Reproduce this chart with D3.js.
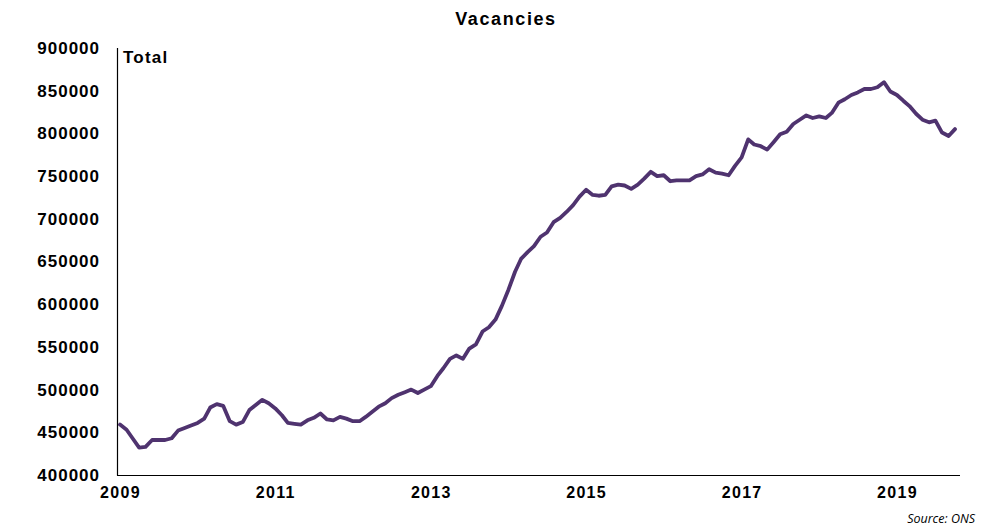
<!DOCTYPE html>
<html>
<head>
<meta charset="utf-8">
<script src="https://cdn.jsdelivr.net/npm/d3@7"></script>
<style>
  body { margin: 0; background: #fff; }
  text { font-family: "Liberation Sans", Arial, sans-serif; }
</style>
</head>
<body>
<div id="plot"></div>
<script>
let width = 1000;
let height = 530;

// monthly vacancies, Jan 2009 .. Oct 2019 (thousands)
let startMonth = new Date(2009, 0, 1);
let vacancies = [
    459, 453, 443, 432, 433, 441, 441, 441, 443, 452, 455, 458,
    461, 466, 479, 483, 481, 463, 459, 462, 476, 482, 488, 484,
    478, 470, 461, 460, 459, 464, 467, 472, 465, 464, 468, 466,
    463, 463, 468, 474, 480, 484, 490, 494, 497, 500, 496, 500,
    504, 516, 525, 536, 540, 536, 548, 553, 568, 573, 582, 598,
    617, 638, 653, 661, 668, 679, 684, 696, 701, 708, 716, 726,
    734, 728, 727, 728, 738, 740, 739, 735, 740, 747, 755, 750,
    751, 744, 745, 745, 745, 750, 752, 758, 754, 753, 751, 762,
    772, 793, 787, 785, 781, 790, 799, 802, 811, 816, 821, 818,
    820, 818, 824, 836, 840, 845, 848, 852, 852, 854, 860, 849,
    845, 838, 832, 823, 816, 813, 815, 801, 797, 805
];
let yTicks = [400000, 450000, 500000, 550000, 600000, 650000, 700000, 750000, 800000, 850000, 900000];
let xTickYears = [2009, 2011, 2013, 2015, 2017, 2019];

let data = vacancies.map((v, i) => ({
    date: new Date(2009, i, 1),
    value: v * 1000
}));

let svg = d3.select("#plot")
    .append("svg")
    .attr("width", width)
    .attr("height", height);

let xScale = d3.scaleTime()
    .domain([startMonth, data[data.length - 1].date])
    .range([120, 955]);

let yScale = d3.scaleLinear()
    .domain([400000, 900000])
    .range([475, 48]);

// title
svg.append("text")
    .attr("x", 506)
    .attr("y", 25)
    .attr("text-anchor", "middle")
    .style("font-weight", "bold")
    .style("font-size", "18px")
    .style("letter-spacing", "1.6px")
    .text("Vacancies");

// y axis
let yAxis = d3.axisLeft(yScale)
    .tickValues(yTicks)
    .tickSize(0)
    .tickPadding(17)
    .tickFormat(d3.format("d"));

svg.append("g")
    .attr("transform", "translate(117,0)")
    .call(yAxis)
    .call(g => g.select(".domain").remove())
    .selectAll("text")
    .style("font-family", "'Liberation Sans', Arial, sans-serif")
    .style("font-weight", "bold")
    .style("font-size", "17px")
    .style("letter-spacing", "1px")
    .attr("fill", "#000");

// x axis
let xAxis = d3.axisBottom(xScale)
    .tickValues(xTickYears.map(y => new Date(y, 0, 1)))
    .tickSize(0)
    .tickPadding(12)
    .tickFormat(d3.timeFormat("%Y"));

svg.append("g")
    .attr("transform", "translate(0,475)")
    .call(xAxis)
    .call(g => g.select(".domain").remove())
    .selectAll("text")
    .style("font-family", "'Liberation Sans', Arial, sans-serif")
    .style("font-weight", "bold")
    .style("font-size", "16px")
    .style("letter-spacing", "1.3px")
    .attr("fill", "#000");

// axis lines
svg.append("line")
    .attr("x1", 117.5).attr("x2", 117.5)
    .attr("y1", 48).attr("y2", 475.5)
    .attr("stroke", "#000").attr("stroke-width", 1.2);

svg.append("line")
    .attr("x1", 117).attr("x2", 960)
    .attr("y1", 475.5).attr("y2", 475.5)
    .attr("stroke", "#000").attr("stroke-width", 1.2);

svg.append("text")
    .attr("x", 123)
    .attr("y", 63)
    .style("font-weight", "bold")
    .style("font-size", "17px")
    .style("letter-spacing", "1.2px")
    .text("Total");

// series
let line = d3.line()
    .x(d => xScale(d.date))
    .y(d => yScale(d.value));

svg.append("path")
    .datum(data)
    .attr("d", line)
    .attr("fill", "none")
    .attr("stroke", "#4f336f")
    .attr("stroke-width", 3.8)
    .attr("stroke-linejoin", "round")
    .attr("stroke-linecap", "round");

svg.append("text")
    .attr("x", 975)
    .attr("y", 523)
    .attr("text-anchor", "end")
    .style("font-family", "'Open Sans', sans-serif")
    .style("font-style", "italic")
    .style("font-size", "12.5px")
    .text("Source: ONS");
</script>
</body>
</html>
